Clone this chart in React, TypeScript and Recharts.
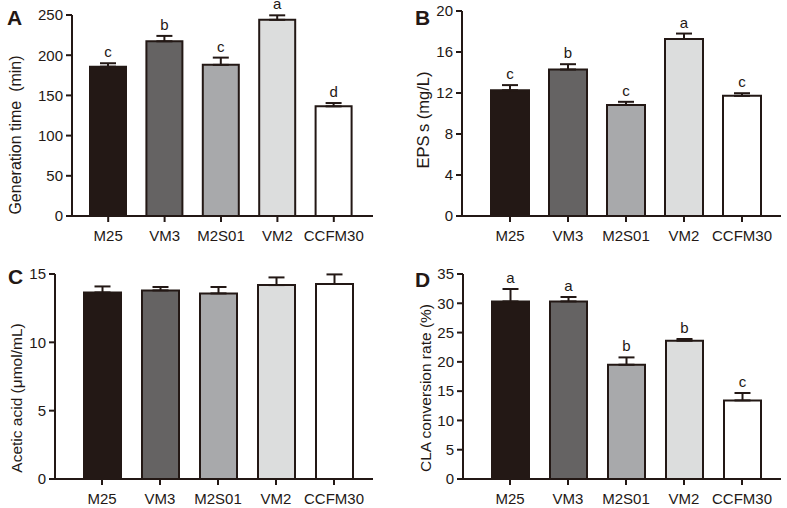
import React from 'react';
import { BarChart, Bar, XAxis, YAxis, ErrorBar, Cell, LabelList } from 'recharts';

const categories = ['M25', 'VM3', 'M2S01', 'VM2', 'CCFM30'];
const barColors = ['#231815', '#656363', '#a8a9ab', '#dcdddd', '#ffffff'];

const genTime = [185.7, 217.3, 188, 244, 136.4];
const genTimeErr = [4.3, 6.7, 9, 5.6, 4.1];
const genTimeLetters = ['c', 'b', 'c', 'a', 'd'];
const genTimeTicks = [0, 50, 100, 150, 200, 250];

const eps = [12.27, 14.29, 10.84, 17.27, 11.72];
const epsErr = [0.5, 0.52, 0.3, 0.53, 0.26];
const epsLetters = ['c', 'b', 'c', 'a', 'c'];
const epsTicks = [0, 4, 8, 12, 16, 20];

const acetic = [13.65, 13.8, 13.58, 14.19, 14.27];
const aceticErr = [0.44, 0.25, 0.47, 0.56, 0.7];
const aceticTicks = [0, 5, 10, 15];

const cla = [30.32, 30.32, 19.51, 23.61, 13.42];
const claErr = [2.12, 0.75, 1.25, 0.29, 1.26];
const claLetters = ['a', 'a', 'b', 'b', 'c'];
const claTicks = [0, 5, 10, 15, 20, 25, 30, 35];

const INK = '#231815';
const FONT = '"Liberation Sans", Arial, Helvetica, sans-serif';

type PanelProps = {
  left: number;
  top: number;
  width: number;
  height: number;
  values: number[];
  errs: number[];
  letters?: string[];
  ticks: number[];
  yLabel: string;
  yLabelSize: number;
  yAxisWidth: number;
  margin: { top: number; right: number; bottom: number; left: number };
  padding: { left: number; right: number };
  barSize: number;
  xAxisHeight: number;
  labelPos: { x: number; y: number };
  panel: string;
  panelPos: { x: number; y: number };
};

function Panel(p: PanelProps) {
  const data = categories.map((c, i) => ({ name: c, value: p.values[i], err: [0, p.errs[i]] }));
  const letterContent = (props: any) => {
    const { x, y, width, height, value, index } = props;
    if (!p.letters || value == null) return null;
    const pxPerUnit = Number(height) / Number(value);
    const topY = Number(y) - p.errs[index] * pxPerUnit;
    return (
      <text x={Number(x) + Number(width) / 2} y={topY - 6} textAnchor="middle" fontSize={15} fontFamily={FONT} fill={INK}>
        {p.letters[index]}
      </text>
    );
  };
  return (
    <div style={{ position: 'absolute', left: p.left, top: p.top, width: p.width, height: p.height }}>
      <BarChart width={p.width} height={p.height} data={data} margin={p.margin}>
        <XAxis
          dataKey="name"
          height={p.xAxisHeight}
          padding={p.padding}
          axisLine={{ stroke: INK, strokeWidth: 2 }}
          tickLine={{ stroke: INK, strokeWidth: 2 }}
          tickSize={6}
          tickMargin={8}
          interval={0}
          tick={{ fontSize: 15, fontFamily: FONT, fill: INK }}
        />
        <YAxis
          width={p.yAxisWidth}
          domain={[p.ticks[0], p.ticks[p.ticks.length - 1]]}
          ticks={p.ticks}
          interval={0}
          axisLine={{ stroke: INK, strokeWidth: 2 }}
          tickLine={{ stroke: INK, strokeWidth: 2 }}
          tickSize={6}
          tickMargin={3}
          tick={{ fontSize: 15, fontFamily: FONT, fill: INK }}
          label={{
            content: () => (
              <text
                transform={`translate(${p.labelPos.x},${p.labelPos.y}) rotate(-90)`}
                textAnchor="middle"
                dominantBaseline="central"
                fontSize={p.yLabelSize}
                fontFamily={FONT}
                fill={INK}
              >
                {p.yLabel}
              </text>
            ),
          }}
        />
        <Bar dataKey="value" barSize={p.barSize} stroke={INK} strokeWidth={2} isAnimationActive={false}>
          {data.map((d, i) => (
            <Cell key={d.name} fill={barColors[i]} />
          ))}
          <ErrorBar dataKey="err" width={8} stroke={INK} strokeWidth={2} direction="y" />
          {p.letters ? <LabelList dataKey="value" content={letterContent} /> : null}
        </Bar>
      </BarChart>
      <svg width={p.width} height={p.height} style={{ position: 'absolute', left: 0, top: 0, pointerEvents: 'none' }}>
        <text x={p.panelPos.x} y={p.panelPos.y} fontSize={21} fontWeight="bold" fontFamily={FONT} fill={INK}>
          {p.panel}
        </text>
      </svg>
    </div>
  );
}

export default function App() {
  return (
    <div style={{ position: 'absolute', left: 0, top: 0, width: 787, height: 508, background: '#ffffff', overflow: 'hidden' }}>
      <Panel
        left={0}
        top={0}
        width={390}
        height={250}
        values={genTime}
        errs={genTimeErr}
        letters={genTimeLetters}
        ticks={genTimeTicks}
        yLabel={'Generation time\u00a0\u00a0(min)'}
        yLabelSize={16}
        yAxisWidth={72}
        margin={{ top: 15, right: 17, bottom: 4, left: 0 }}
        padding={{ left: 8, right: 11 }}
        barSize={36}
        xAxisHeight={30}
        labelPos={{ x: 15, y: 135 }}
        panel="A"
        panelPos={{ x: 7, y: 25 }}
      />
      <Panel
        left={390}
        top={0}
        width={397}
        height={250}
        values={eps}
        errs={epsErr}
        letters={epsLetters}
        ticks={epsTicks}
        yLabel={'EPS\u2009s (mg/L)'}
        yLabelSize={16.5}
        yAxisWidth={72}
        margin={{ top: 11, right: 6, bottom: 4, left: 0 }}
        padding={{ left: 19, right: 10 }}
        barSize={38}
        xAxisHeight={30}
        labelPos={{ x: 32.5, y: 120 }}
        panel="B"
        panelPos={{ x: 25, y: 25 }}
      />
      <Panel
        left={0}
        top={250}
        width={390}
        height={258}
        values={acetic}
        errs={aceticErr}
        ticks={aceticTicks}
        yLabel="Acetic acid (μmol/mL)"
        yLabelSize={15.5}
        yAxisWidth={55}
        margin={{ top: 24, right: 17, bottom: 1, left: 0 }}
        padding={{ left: 18, right: 10 }}
        barSize={37}
        xAxisHeight={28}
        labelPos={{ x: 16, y: 148 }}
        panel="C"
        panelPos={{ x: 8, y: 34 }}
      />
      <Panel
        left={390}
        top={250}
        width={397}
        height={258}
        values={cla}
        errs={claErr}
        letters={claLetters}
        ticks={claTicks}
        yLabel="CLA conversion rate (%)"
        yLabelSize={15.5}
        yAxisWidth={73}
        margin={{ top: 24, right: 6, bottom: 1, left: 0 }}
        padding={{ left: 18, right: 10 }}
        barSize={37}
        xAxisHeight={28}
        labelPos={{ x: 35, y: 138 }}
        panel="D"
        panelPos={{ x: 25, y: 37 }}
      />
    </div>
  );
}
